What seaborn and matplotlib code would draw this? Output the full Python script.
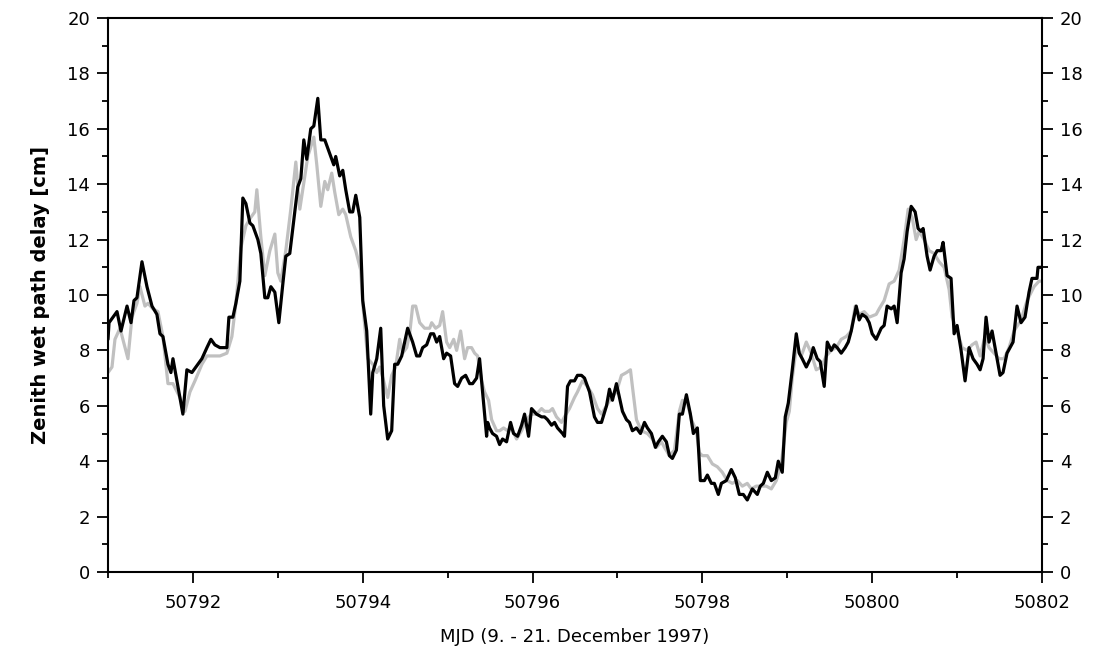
import numpy as np
import pandas as pd
import matplotlib
matplotlib.use("Agg")
import matplotlib.pyplot as plt
from matplotlib.ticker import MultipleLocator
import seaborn as sns

# ---- data ----
black_mjd = [50791.000, 50791.012, 50791.106, 50791.153, 50791.224, 50791.271, 50791.306, 50791.341,
             50791.400, 50791.459, 50791.518, 50791.576, 50791.612, 50791.647, 50791.706, 50791.741,
             50791.765, 50791.824, 50791.882, 50791.929, 50791.988, 50792.035, 50792.106, 50792.165,
             50792.212, 50792.259, 50792.318, 50792.400, 50792.424, 50792.471, 50792.506, 50792.553,
             50792.588, 50792.624, 50792.671, 50792.706, 50792.765, 50792.800, 50792.847, 50792.882,
             50792.918, 50792.965, 50793.012, 50793.059, 50793.094, 50793.141, 50793.200, 50793.235,
             50793.271, 50793.306, 50793.341, 50793.388, 50793.424, 50793.471, 50793.506, 50793.553,
             50793.588, 50793.624, 50793.659, 50793.682, 50793.729, 50793.765, 50793.800, 50793.847,
             50793.882, 50793.918, 50793.965, 50794.000, 50794.047, 50794.094, 50794.118, 50794.165,
             50794.212, 50794.247, 50794.294, 50794.341, 50794.376, 50794.412, 50794.459, 50794.494,
             50794.529, 50794.588, 50794.635, 50794.671, 50794.706, 50794.753, 50794.800, 50794.835,
             50794.871, 50794.906, 50794.953, 50794.988, 50795.035, 50795.082, 50795.118, 50795.165,
             50795.212, 50795.259, 50795.294, 50795.341, 50795.376, 50795.412, 50795.459, 50795.471,
             50795.494, 50795.529, 50795.576, 50795.612, 50795.647, 50795.694, 50795.741, 50795.776,
             50795.824, 50795.871, 50795.906, 50795.953, 50795.988, 50796.047, 50796.106, 50796.141,
             50796.176, 50796.224, 50796.259, 50796.294, 50796.353, 50796.376, 50796.412, 50796.447,
             50796.494, 50796.529, 50796.576, 50796.612, 50796.671, 50796.729, 50796.765, 50796.812,
             50796.871, 50796.906, 50796.941, 50796.988, 50797.024, 50797.059, 50797.106, 50797.141,
             50797.176, 50797.224, 50797.271, 50797.318, 50797.353, 50797.400, 50797.447, 50797.482,
             50797.529, 50797.576, 50797.612, 50797.647, 50797.694, 50797.729, 50797.765, 50797.812,
             50797.859, 50797.894, 50797.941, 50797.976, 50798.024, 50798.059, 50798.106, 50798.141,
             50798.188, 50798.224, 50798.282, 50798.341, 50798.388, 50798.435, 50798.482, 50798.529,
             50798.588, 50798.647, 50798.682, 50798.718, 50798.765, 50798.812, 50798.859, 50798.894,
             50798.941, 50798.976, 50799.012, 50799.059, 50799.106, 50799.141, 50799.176, 50799.224,
             50799.271, 50799.306, 50799.353, 50799.388, 50799.435, 50799.471, 50799.518, 50799.553,
             50799.588, 50799.635, 50799.682, 50799.718, 50799.753, 50799.812, 50799.847, 50799.882,
             50799.929, 50799.965, 50800.000, 50800.047, 50800.106, 50800.141, 50800.176, 50800.224,
             50800.259, 50800.294, 50800.341, 50800.376, 50800.412, 50800.459, 50800.506, 50800.541,
             50800.576, 50800.600, 50800.647, 50800.682, 50800.729, 50800.765, 50800.812, 50800.835,
             50800.882, 50800.929, 50800.965, 50801.000, 50801.047, 50801.094, 50801.141, 50801.188,
             50801.235, 50801.271, 50801.306, 50801.341, 50801.376, 50801.412, 50801.459, 50801.506,
             50801.541, 50801.588, 50801.659, 50801.706, 50801.753, 50801.800, 50801.847, 50801.882,
             50801.941, 50801.953, 50801.988]
black_zwd = [8.4, 9.0, 9.4, 8.7, 9.6, 9.0, 9.8, 9.9,
             11.2, 10.3, 9.6, 9.3, 8.6, 8.5, 7.5, 7.2,
             7.7, 6.7, 5.7, 7.3, 7.2, 7.4, 7.7, 8.1,
             8.4, 8.2, 8.1, 8.1, 9.2, 9.2, 9.7, 10.5,
             13.5, 13.3, 12.6, 12.5, 12.0, 11.5, 9.9, 9.9,
             10.3, 10.1, 9.0, 10.4, 11.4, 11.5, 13.0, 13.9,
             14.2, 15.6, 14.9, 16.0, 16.1, 17.1, 15.6, 15.6,
             15.3, 15.0, 14.7, 15.0, 14.3, 14.5, 13.8, 13.0,
             13.0, 13.6, 12.8, 9.8, 8.7, 5.7, 7.2, 7.7,
             8.8, 6.0, 4.8, 5.1, 7.5, 7.5, 7.8, 8.3,
             8.8, 8.3, 7.8, 7.8, 8.1, 8.2, 8.6, 8.6,
             8.3, 8.5, 7.7, 7.9, 7.8, 6.8, 6.7, 7.0,
             7.1, 6.8, 6.8, 7.0, 7.7, 6.5, 4.9, 5.4,
             5.2, 5.0, 4.9, 4.6, 4.8, 4.7, 5.4, 5.0,
             4.9, 5.3, 5.7, 4.9, 5.9, 5.7, 5.6, 5.6,
             5.5, 5.3, 5.4, 5.2, 5.0, 4.9, 6.7, 6.9,
             6.9, 7.1, 7.1, 7.0, 6.5, 5.6, 5.4, 5.4,
             6.0, 6.6, 6.2, 6.8, 6.3, 5.8, 5.5, 5.4,
             5.1, 5.2, 5.0, 5.4, 5.2, 5.0, 4.5, 4.7,
             4.9, 4.7, 4.2, 4.1, 4.4, 5.7, 5.7, 6.4,
             5.7, 5.0, 5.2, 3.3, 3.3, 3.5, 3.2, 3.2,
             2.8, 3.2, 3.3, 3.7, 3.4, 2.8, 2.8, 2.6,
             3.0, 2.8, 3.1, 3.2, 3.6, 3.3, 3.4, 4.0,
             3.6, 5.6, 6.1, 7.3, 8.6, 7.9, 7.7, 7.4,
             7.7, 8.1, 7.7, 7.6, 6.7, 8.3, 8.0, 8.2,
             8.1, 7.9, 8.1, 8.3, 8.7, 9.6, 9.1, 9.3,
             9.2, 9.0, 8.6, 8.4, 8.8, 8.9, 9.6, 9.5,
             9.6, 9.0, 10.8, 11.3, 12.3, 13.2, 13.0, 12.4,
             12.3, 12.4, 11.4, 10.9, 11.4, 11.6, 11.6, 11.9,
             10.7, 10.6, 8.6, 8.9, 8.0, 6.9, 8.1, 7.7,
             7.5, 7.3, 7.7, 9.2, 8.3, 8.7, 7.9, 7.1,
             7.2, 7.9, 8.3, 9.6, 9.0, 9.2, 10.1, 10.6,
             10.6, 11.0, 11.0]

gray_mjd = [50791.000, 50791.047, 50791.082, 50791.141, 50791.235, 50791.282, 50791.341, 50791.376,
            50791.435, 50791.471, 50791.529, 50791.588, 50791.647, 50791.706, 50791.765, 50791.847,
            50791.906, 50791.965, 50792.024, 50792.106, 50792.165, 50792.235, 50792.318, 50792.400,
            50792.459, 50792.506, 50792.565, 50792.624, 50792.682, 50792.729, 50792.753, 50792.800,
            50792.847, 50792.906, 50792.965, 50793.000, 50793.035, 50793.094, 50793.153, 50793.212,
            50793.259, 50793.294, 50793.353, 50793.424, 50793.459, 50793.506, 50793.553, 50793.588,
            50793.635, 50793.671, 50793.718, 50793.765, 50793.800, 50793.859, 50793.918, 50793.976,
            50794.000, 50794.059, 50794.118, 50794.165, 50794.200, 50794.247, 50794.294, 50794.341,
            50794.388, 50794.435, 50794.471, 50794.518, 50794.553, 50794.588, 50794.624, 50794.671,
            50794.729, 50794.788, 50794.812, 50794.859, 50794.906, 50794.941, 50794.988, 50795.024,
            50795.071, 50795.106, 50795.153, 50795.200, 50795.235, 50795.282, 50795.318, 50795.353,
            50795.400, 50795.435, 50795.482, 50795.518, 50795.576, 50795.612, 50795.659, 50795.706,
            50795.753, 50795.812, 50795.871, 50795.929, 50795.988, 50796.047, 50796.106, 50796.141,
            50796.200, 50796.235, 50796.282, 50796.341, 50796.376, 50796.435, 50796.494, 50796.529,
            50796.588, 50796.647, 50796.706, 50796.765, 50796.812, 50796.871, 50796.929, 50796.988,
            50797.047, 50797.106, 50797.153, 50797.176, 50797.224, 50797.282, 50797.353, 50797.412,
            50797.459, 50797.518, 50797.553, 50797.612, 50797.671, 50797.729, 50797.765, 50797.824,
            50797.871, 50797.929, 50797.965, 50798.000, 50798.059, 50798.118, 50798.176, 50798.235,
            50798.294, 50798.353, 50798.412, 50798.471, 50798.529, 50798.576, 50798.635, 50798.694,
            50798.753, 50798.812, 50798.871, 50798.929, 50798.988, 50799.024, 50799.059, 50799.106,
            50799.165, 50799.224, 50799.282, 50799.341, 50799.400, 50799.459, 50799.518, 50799.576,
            50799.635, 50799.694, 50799.753, 50799.800, 50799.847, 50799.906, 50799.965, 50800.047,
            50800.082, 50800.141, 50800.200, 50800.259, 50800.318, 50800.376, 50800.424, 50800.471,
            50800.518, 50800.553, 50800.612, 50800.671, 50800.729, 50800.788, 50800.847, 50800.906,
            50800.941, 50801.000, 50801.059, 50801.118, 50801.176, 50801.224, 50801.271, 50801.329,
            50801.376, 50801.435, 50801.494, 50801.553, 50801.612, 50801.671, 50801.753, 50801.824,
            50801.906, 50801.965, 50802.000]
gray_zwd = [7.2, 7.4, 8.4, 8.8, 7.7, 9.2, 9.7, 10.3,
            9.6, 9.7, 9.5, 9.4, 8.5, 6.8, 6.8, 6.3,
            5.8, 6.5, 6.9, 7.5, 7.8, 7.8, 7.8, 7.9,
            8.5, 9.7, 11.7, 12.5, 12.8, 13.0, 13.8, 12.1,
            10.7, 11.6, 12.2, 10.8, 10.5, 11.6, 13.1, 14.8,
            13.1, 13.8, 15.0, 15.7, 14.7, 13.2, 14.1, 13.8,
            14.4, 13.7, 12.9, 13.1, 12.9, 12.1, 11.6, 10.9,
            9.7, 7.7, 7.5, 7.2, 7.4, 6.9, 6.3, 7.1,
            7.4, 8.4, 7.9, 8.1, 8.6, 9.6, 9.6, 9.0,
            8.8, 8.8, 9.0, 8.8, 8.9, 9.4, 8.3, 8.1,
            8.4, 8.0, 8.7, 7.7, 8.1, 8.1, 7.9, 7.8,
            6.9, 6.5, 6.2, 5.5, 5.1, 5.1, 5.2, 5.1,
            5.2, 4.8, 5.1, 5.5, 5.7, 5.7, 5.9, 5.8,
            5.8, 5.9, 5.6, 5.4, 5.6, 5.9, 6.3, 6.5,
            6.9, 6.7, 6.4, 5.9, 5.7, 6.0, 6.3, 6.5,
            7.1, 7.2, 7.3, 6.7, 5.5, 5.1, 5.0, 4.8,
            4.5, 4.7, 4.5, 4.2, 4.4, 5.8, 6.2, 6.1,
            5.5, 5.1, 4.3, 4.2, 4.2, 3.9, 3.8, 3.6,
            3.3, 3.2, 3.3, 3.1, 3.2, 3.0, 3.1, 3.1,
            3.1, 3.0, 3.3, 3.9, 5.4, 5.8, 7.0, 8.1,
            7.8, 8.3, 7.9, 7.3, 7.4, 7.8, 8.0, 8.1,
            8.4, 8.5, 8.7, 9.6, 9.3, 9.4, 9.2, 9.3,
            9.5, 9.8, 10.4, 10.5, 10.9, 12.0, 13.1, 12.8,
            12.0, 12.3, 12.0, 11.6, 11.5, 11.2, 11.0, 10.2,
            9.2, 8.7, 8.1, 8.0, 8.2, 8.3, 7.8, 8.5,
            8.1, 7.9, 7.7, 7.7, 8.1, 8.7, 9.1, 9.8,
            10.3, 10.5, 10.5]

x_major_ticks = [50792, 50794, 50796, 50798, 50800, 50802]
y_major_ticks = [0, 2, 4, 6, 8, 10, 12, 14, 16, 18, 20]

# ---- plotting ----
sns.set_style("ticks")
plt.rcParams['font.family'] = ['DejaVu Sans']
plt.rcParams['text.color'] = 'black'
plt.rcParams['axes.labelcolor'] = 'black'
plt.rcParams['xtick.color'] = 'black'
plt.rcParams['ytick.color'] = 'black'

df_b = pd.DataFrame({"MJD": black_mjd, "ZWD": black_zwd})
df_g = pd.DataFrame({"MJD": gray_mjd, "ZWD": gray_zwd})

fig = plt.figure(figsize=(10.93, 6.5), dpi=100)
ax = fig.add_axes([108/1093, 78/650, (1042-108)/1093, (572-18)/650])

sns.lineplot(data=df_g, x="MJD", y="ZWD", ax=ax, color="#c0c0c0", linewidth=2.3,
             estimator=None, sort=False)
sns.lineplot(data=df_b, x="MJD", y="ZWD", ax=ax, color="black", linewidth=2.3,
             estimator=None, sort=False)

ax.set_xlim(50791, 50802)
ax.set_ylim(0, 20)
ax.set_xticks(x_major_ticks)
ax.set_xticklabels([str(v) for v in x_major_ticks])
ax.xaxis.set_minor_locator(MultipleLocator(1))
ax.set_yticks(y_major_ticks)
ax.set_yticklabels([str(v) for v in y_major_ticks])
ax.yaxis.set_minor_locator(MultipleLocator(1))

ax.tick_params(which='major', direction='out', length=8, width=1.3, labelsize=13,
               colors='black',
               left=True, right=True, labelleft=True, labelright=True, top=False, bottom=True)
ax.tick_params(which='minor', direction='out', length=4, width=1.3, colors='black',
               left=True, right=True, top=False, bottom=True)
ax.tick_params(axis='x', pad=8)
ax.tick_params(axis='y', pad=5)

for s in ax.spines.values():
    s.set_linewidth(1.5)
    s.set_color("black")

ax.set_xlabel("MJD (9. - 21. December 1997)", fontsize=13, labelpad=11, color='black')
ax.set_ylabel("Zenith wet path delay [cm]", fontsize=14, fontweight='bold', labelpad=12,
              color='black')

fig.savefig("out.png", dpi=100)
